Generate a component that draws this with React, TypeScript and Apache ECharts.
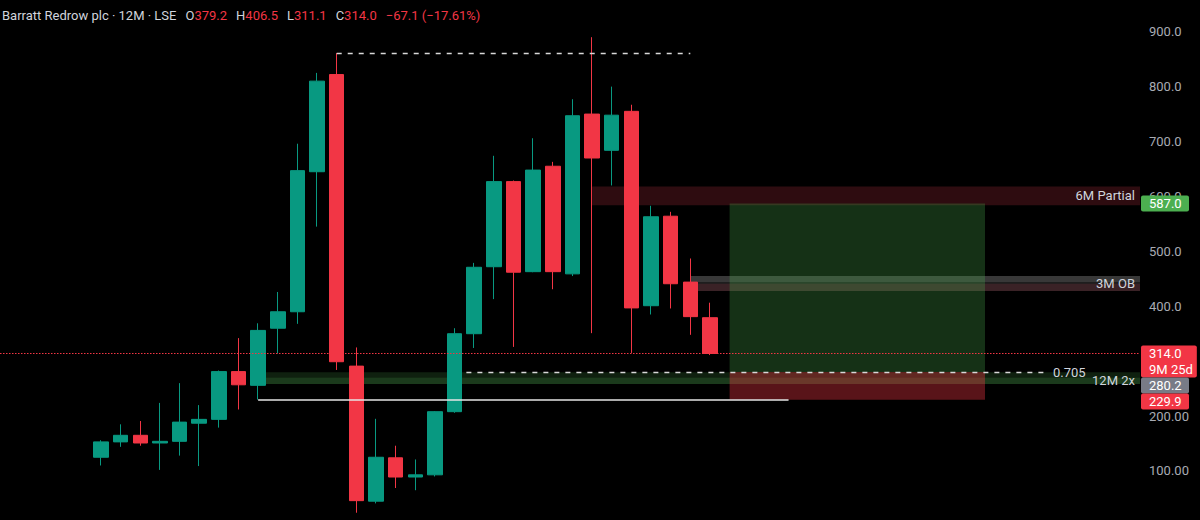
import React, { useEffect, useRef } from "react";
import * as echarts from "echarts";

// ---------- data ----------
const TITLE = "Barratt Redrow plc · 12M · LSE";

const opens = [125, 153, 165, 151, 154, 187, 194, 281, 256, 360, 390, 645, 822, 291, 45, 124, 89, 93, 208, 350, 472, 627, 463, 655, 459, 750, 684, 755, 401, 564, 444, 379.2];
const highs = [156, 185, 191, 224, 260, 220, 283, 342, 369, 426, 696, 825, 861, 325, 195, 146, 121, 209, 360, 479, 674, 629, 706, 663, 777, 890, 800, 767, 583, 572, 487, 406.5];
const lows = [110, 144, 146, 102, 128, 109, 179, 212, 230, 314, 368, 545, 284, 24, 41, 69, 65, 90, 206, 324, 413, 326, 462, 431, 455, 351, 620, 315, 385, 396, 348, 311.1];
const closes = [153, 165, 151, 154, 189, 194, 281, 257, 356, 390, 647, 810, 299, 46, 125, 89, 93, 208, 350, 471, 627, 462, 648, 463, 747, 670, 748, 397, 563, 441, 381.1, 314.0];

// visible range of the time axis (in candle index units)
const viewStart = -5.14;
const viewEnd = 52.89;

// price axis
const priceMin = 0;
const priceMax = 1000;
const priceStep = 100;
const hiddenTicks = [300]; // fully covered by the price tags

// zones: label, start index, low, high
const zoneLabels = ["6M Partial", "12M 2x", "", "3M OB", "", ""];
const zoneStart = [25, 8, 8, 30, 30, 30];
const zoneLow = [584, 258.4, 270.6, 428, 444, 428];
const zoneHigh = [618, 270.6, 279.7, 455, 455, 441];

// long position tool
const posStart = 32;
const posEnd = 45;
const posEntry = 280.2;
const posTarget = 587.0;
const posStop = 229.9;

// drawn lines
const highLine = { price: 861, from: 12, to: 30 };
const fibLine = { price: 280, from: 18.6, to: 48, label: "0.705" };
const supportLine = { price: 230, from: 8, to: 35 };

// axis tags
const tagPrices = [587.0, 314.0, 280.2, 229.9];
const tagExtra = ["", "9M 25d", "", ""];

// ---------- styles ----------
const UP = "#089981";
const DOWN = "#f23645";
const FONT = "Roboto, 'Noto Sans', sans-serif";
const zoneColors = ["#2e0c10", "#1b3a1c", "#0f200f", "#1e1e1e", "#383838", "#3a2226"];
const tagColors = ["#4caf50", DOWN, "#787b86", DOWN];

function measure(text: string) {
  const c = document.createElement("canvas").getContext("2d");
  if (!c) return text.length * 7;
  c.font = "13px Roboto";
  return c.measureText(text).width;
}

export default function App() {
  const ref = useRef<HTMLDivElement>(null);

  useEffect(() => {
    if (!ref.current) return;
    const chart = echarts.init(ref.current, undefined, { renderer: "svg" });
    const n = closes.length;
    const candleData = closes.map((c, i) => [i, opens[i], c, lows[i], highs[i]]);

    const zoneAreas: any[] = zoneLabels.map((lab, i) => [
      {
        xAxis: zoneStart[i],
        yAxis: zoneHigh[i],
        itemStyle: { color: zoneColors[i], opacity: 1 },
        label: lab
          ? { show: true, position: "insideRight", distance: 5, formatter: lab, color: "#d1d4dc", fontSize: 13, fontFamily: FONT }
          : { show: false },
      },
      { xAxis: viewEnd, yAxis: zoneLow[i] },
    ]);

    const posAreas: any[] = [
      [
        { xAxis: posStart, yAxis: posTarget, itemStyle: { color: "rgba(76,175,80,0.28)" }, label: { show: false } },
        { xAxis: posEnd, yAxis: posEntry },
      ],
      [
        { xAxis: posStart, yAxis: posEntry, itemStyle: { color: "rgba(242,54,69,0.37)" }, label: { show: false } },
        { xAxis: posEnd, yAxis: posStop },
      ],
    ];

    const markLines: any[] = [
      {
        yAxis: closes[n - 1],
        lineStyle: { color: DOWN, type: [1.5, 1.5], width: 1.2, opacity: 1 },
        label: { show: false },
      },
      [
        { coord: [highLine.from, highLine.price], lineStyle: { color: "#d8d8d8", type: [5, 6], width: 1.3 }, label: { show: false } },
        { coord: [highLine.to, highLine.price] },
      ],
      [
        {
          coord: [fibLine.from, fibLine.price],
          lineStyle: { color: "#d8d8d8", type: [5, 6], width: 1.3 },
          label: { show: true, position: "end", distance: 9, formatter: fibLine.label, color: "#d1d4dc", fontSize: 13, fontFamily: FONT },
        },
        { coord: [fibLine.to, fibLine.price] },
      ],
      [
        { coord: [supportLine.from, supportLine.price], lineStyle: { color: "#e6e6e6", type: "solid", width: 1.5 }, label: { show: false } },
        { coord: [supportLine.to, supportLine.price] },
      ],
    ];

    chart.setOption({
      animation: false,
      backgroundColor: "#000000",
      grid: { left: 0, right: 60, top: -23.2, height: 549.1, containLabel: false, outerBoundsMode: "none" },
      xAxis: { type: "value", min: viewStart, max: viewEnd, show: false },
      yAxis: {
        type: "value",
        position: "right",
        min: priceMin,
        max: priceMax,
        interval: priceStep,
        axisLine: { show: false },
        axisTick: { show: false },
        splitLine: { show: false },
        axisLabel: {
          margin: 9,
          color: "#a8abb3",
          fontSize: 13,
          fontFamily: FONT,
          showMinLabel: false,
          showMaxLabel: false,
          formatter: (v: number) =>
            hiddenTicks.includes(v) ? "" : v >= 300 ? v.toFixed(1) : v.toFixed(2),
        },
      },
      series: [
        {
          type: "candlestick",
          data: candleData,
          barWidth: 15,
          itemStyle: { color: UP, color0: DOWN, borderColor: UP, borderColor0: DOWN, borderWidth: 1 },
          markArea: { silent: true, data: [...zoneAreas, ...posAreas] },
          markLine: { silent: true, symbol: ["none", "none"], label: { show: false }, data: markLines },
        },
      ],
    });

    // graphic overlays: header + price tags
    const gridRight = chart.convertToPixel({ xAxisIndex: 0 }, viewEnd) as number;
    const LINE_H = 16;
    const els: any[] = [];
    let prevBottom = -Infinity;
    tagPrices.forEach((p, i) => {
      const lines = [p.toFixed(1)];
      if (tagExtra[i]) lines.push(tagExtra[i]);
      const y = chart.convertToPixel({ yAxisIndex: 0 }, p) as number;
      let top = y - LINE_H / 2;
      if (top < prevBottom) top = prevBottom;
      const h = lines.length * LINE_H;
      prevBottom = top + h;
      const w = Math.max(48, Math.max(...lines.map(measure)) + 12);
      els.push({
        type: "rect",
        z: 100,
        shape: { x: gridRight + 1, y: top, width: w, height: h, r: 2 },
        style: { fill: tagColors[i] },
      });
      lines.forEach((t, k) =>
        els.push({
          type: "text",
          z: 101,
          x: gridRight + 9,
          y: top + LINE_H * k + LINE_H / 2,
          style: { text: t, fill: "#ffffff", fontSize: 13, fontFamily: FONT, verticalAlign: "middle", align: "left" },
        })
      );
    });

    const last = n - 1;
    const chg = closes[last] - closes[last - 1];
    const pct = (chg / closes[last - 1]) * 100;
    const chgText = `${chg < 0 ? "\u2212" : "+"}${Math.abs(chg).toFixed(1)} (${pct < 0 ? "\u2212" : "+"}${Math.abs(pct).toFixed(2)}%)`;
    const header =
      `{l|${TITLE}}{g|}{l|O}{v|${opens[last].toFixed(1)}}{g|}{l|H}{v|${highs[last].toFixed(1)}}{g|}` +
      `{l|L}{v|${lows[last].toFixed(1)}}{g|}{l|C}{v|${closes[last].toFixed(1)}}{g|}{v|${chgText}}`;
    els.push({
      type: "text",
      z: 102,
      x: 2,
      y: 15,
      style: {
        text: header,
        fontSize: 13,
        fontFamily: FONT,
        verticalAlign: "middle",
        fill: "#d1d4dc",
        rich: {
          l: { fill: "#d1d4dc", fontSize: 13, fontFamily: FONT },
          v: { fill: DOWN, fontSize: 13, fontFamily: FONT },
          g: { width: 9 },
        },
      },
    });

    chart.setOption({ graphic: { elements: els } });

    return () => chart.dispose();
  }, []);

  return (
    <div
      ref={ref}
      style={{ position: "fixed", left: 0, top: 0, width: 1200, height: 520, background: "#000" }}
    />
  );
}
